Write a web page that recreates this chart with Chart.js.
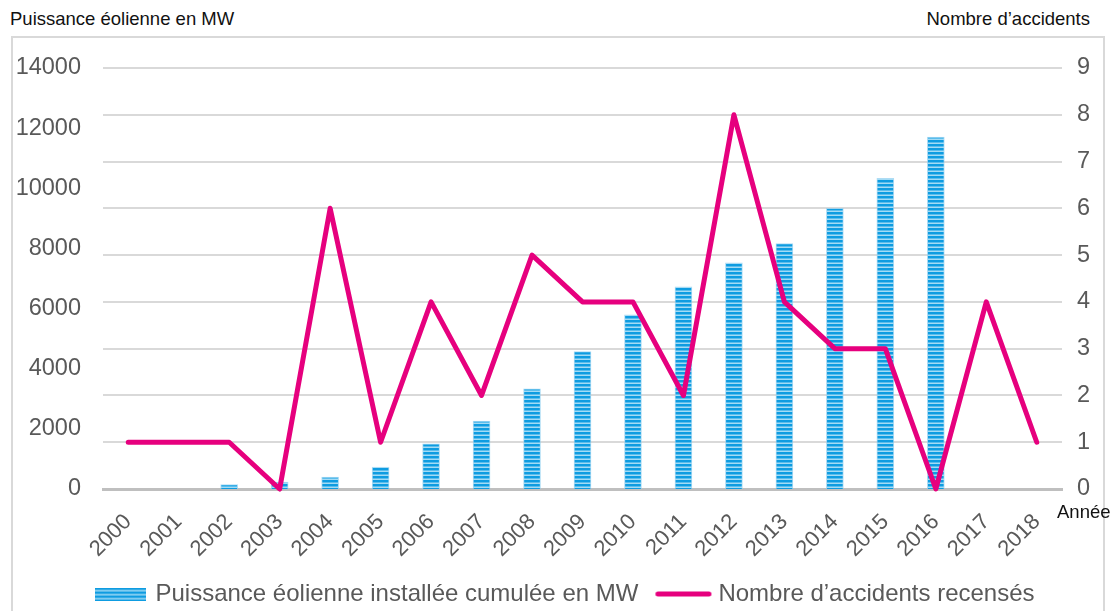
<!DOCTYPE html>
<html lang="fr">
<head>
<meta charset="utf-8">
<title>Puissance éolienne et accidents</title>
<script src="https://cdn.jsdelivr.net/npm/chart.js@4.4.1/dist/chart.umd.min.js"></script>
<style>
  html, body { margin: 0; padding: 0; background: #ffffff; overflow: hidden; }
  #wrap { position: relative; width: 1112px; height: 611px; font-family: "Liberation Sans", Arial, sans-serif; }
  #frame { position: absolute; left: 11px; top: 36px; width: 1094px; height: 620px; border: 2px solid #d9d9d9; box-sizing: border-box; }
  .axis-title { position: absolute; font-size: 18.5px; line-height: 18px; color: #111111; white-space: nowrap; }
  #titleLeft { left: 10px; top: 10px; }
  #titleRight { right: 22px; top: 10px; }
  #titleX { left: 1057px; top: 503px; }
  canvas { position: absolute; left: 0; top: 0; }
</style>
</head>
<body>
<div id="wrap">
  <div id="frame"></div>
  <div class="axis-title" id="titleLeft">Puissance éolienne en MW</div>
  <div class="axis-title" id="titleRight">Nombre d’accidents</div>
  <canvas id="chart" width="1112" height="611"></canvas>
  <div class="axis-title" id="titleX">Année</div>
</div>
<script>
// Années (catégories de l'axe horizontal)
const years = ['2000', '2001', '2002', '2003', '2004', '2005', '2006', '2007', '2008', '2009',
               '2010', '2011', '2012', '2013', '2014', '2015', '2016', '2017', '2018'];

// Puissance éolienne installée cumulée (MW) ; pas de donnée pour 2000-2001 et 2017-2018
const puissanceMW = [null, null, 150, 230, 400, 730, 1500, 2260, 3330, 4570,
                     5790, 6720, 7520, 8160, 9330, 10330, 11700, null, null];

// Nombre d'accidents recensés par année
const accidents = [1, 1, 1, 0, 6, 1, 4, 2, 5, 4, 4, 2, 8, 4, 3, 3, 0, 4, 1];

const labelPuissance = 'Puissance éolienne installée cumulée en MW';
const labelAccidents = 'Nombre d’accidents recensés';

const FONT = '"Liberation Sans", Arial, sans-serif';
const GREY_TEXT = '#595959';
const MAGENTA = '#e6007e';

// Motif rayé horizontal des barres
function makeStripeCanvas(w, h) {
  const c = document.createElement('canvas');
  c.width = w; c.height = h;
  const g = c.getContext('2d');
  const rows = ['#0e9ce1', '#0e9ce1', '#5abdec', '#a3dbf5'];
  for (let y = 0; y < h; y++) {
    g.fillStyle = rows[y % rows.length];
    g.fillRect(0, y, w, 1);
  }
  return c;
}
const stripeTile = makeStripeCanvas(4, 4);
const ctx = document.getElementById('chart').getContext('2d');
const stripePattern = ctx.createPattern(stripeTile, 'repeat');

// Pastilles de légende
const barSwatch = makeStripeCanvas(51, 13);
const lineSwatch = (() => {
  const c = document.createElement('canvas');
  c.width = 58; c.height = 8;
  const g = c.getContext('2d');
  g.strokeStyle = MAGENTA;
  g.lineWidth = 5;
  g.lineCap = 'round';
  g.beginPath();
  g.moveTo(3.5, 4);
  g.lineTo(54.5, 4);
  g.stroke();
  return c;
})();

Chart.defaults.font.family = FONT;

new Chart(ctx, {
  type: 'bar',
  data: {
    labels: years,
    datasets: [
      {
        type: 'bar',
        label: labelPuissance,
        data: puissanceMW,
        yAxisID: 'yMW',
        backgroundColor: stripePattern,
        borderColor: 'rgba(140, 205, 240, 0.7)',
        borderWidth: 1,
        barThickness: 17,
        order: 2
      },
      {
        type: 'line',
        label: labelAccidents,
        data: accidents,
        yAxisID: 'yAcc',
        borderColor: MAGENTA,
        backgroundColor: MAGENTA,
        borderWidth: 5,
        pointRadius: 0,
        tension: 0,
        borderJoinStyle: 'round',
        borderCapStyle: 'round',
        clip: false,
        order: 1
      }
    ]
  },
  options: {
    responsive: false,
    animation: false,
    layout: { padding: { left: 12, right: -8, top: 68, bottom: -5 } },
    scales: {
      x: {
        offset: true,
        grid: { display: false, drawTicks: false },
        border: { display: true, color: '#bfbfbf', width: 3 },
        ticks: {
          color: GREY_TEXT,
          font: { size: 22 },
          minRotation: 45,
          maxRotation: 45,
          autoSkip: false,
          padding: 20
        },
        afterFit(scale) { scale.height = 71; }
      },
      yMW: {
        position: 'left',
        min: 0,
        max: 14000,
        ticks: {
          stepSize: 2000,
          color: GREY_TEXT,
          font: { size: 23.5 },
          padding: 22,
          callback: (v) => String(v)
        },
        grid: { display: false, drawTicks: false },
        border: { display: false },
        afterFit(scale) { scale.width = 91; }
      },
      yAcc: {
        position: 'right',
        min: 0,
        max: 9,
        ticks: {
          stepSize: 1,
          color: GREY_TEXT,
          font: { size: 23.5 },
          padding: 15,
          callback: (v) => String(v)
        },
        grid: {
          color: (c) => (c.tick && c.tick.value === 0 ? 'rgba(0,0,0,0)' : '#d9d9d9'),
          lineWidth: 2,
          drawTicks: false
        },
        border: { display: false },
        afterFit(scale) { scale.width = 58; }
      }
    },
    plugins: {
      tooltip: { enabled: false },
      legend: {
        position: 'bottom',
        labels: {
          usePointStyle: true,
          pointStyleWidth: 46,
          boxHeight: 14,
          padding: 22,
          color: GREY_TEXT,
          font: { size: 24 },
          generateLabels: () => [
            { text: labelPuissance, pointStyle: barSwatch, fontColor: GREY_TEXT, datasetIndex: 0, lineWidth: 0, strokeStyle: 'rgba(0,0,0,0)', fillStyle: 'rgba(0,0,0,0)' },
            { text: labelAccidents, pointStyle: lineSwatch, fontColor: GREY_TEXT, datasetIndex: 1, lineWidth: 0, strokeStyle: 'rgba(0,0,0,0)', fillStyle: 'rgba(0,0,0,0)' }
          ]
        }
      }
    }
  }
});
</script>
</body>
</html>
